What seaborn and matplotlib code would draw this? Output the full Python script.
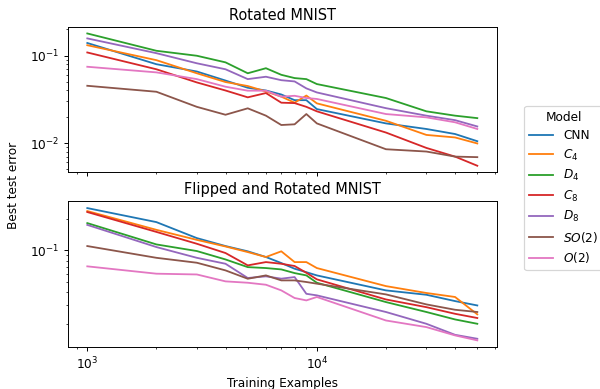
import pandas as pd
import matplotlib
matplotlib.use('Agg')
import matplotlib.pyplot as plt
import seaborn as sns

# training set sizes
train_sizes = [1000, 2000, 3000, 4000, 5000, 6000, 7000, 8000, 9000,
               10000, 20000, 30000, 40000, 50000]

models = ['CNN', '$C_4$', '$D_4$', '$C_8$', '$D_8$', '$SO(2)$', '$O(2)$']

# Rotated MNIST, best test error per model
rot_cnn = [0.14, 0.080, 0.066, 0.052, 0.043, 0.040, 0.036, 0.031, 0.031, 0.0245, 0.0168, 0.0145, 0.0127, 0.0105]
rot_c4 = [0.132, 0.089, 0.063, 0.050, 0.045, 0.039, 0.034, 0.029, 0.035, 0.0285, 0.018, 0.0124, 0.0116, 0.0099]
rot_d4 = [0.18, 0.114, 0.10, 0.084, 0.063, 0.072, 0.0605, 0.0555, 0.054, 0.0474, 0.0328, 0.0231, 0.0206, 0.0193]
rot_c8 = [0.109, 0.070, 0.0495, 0.040, 0.0334, 0.0374, 0.029, 0.0287, 0.026, 0.0231, 0.0132, 0.0088, 0.0070, 0.0055]
rot_d8 = [0.158, 0.107, 0.082, 0.070, 0.054, 0.0575, 0.0525, 0.0508, 0.0423, 0.038, 0.0251, 0.0206, 0.0183, 0.0155]
rot_so2 = [0.0453, 0.0387, 0.026, 0.0211, 0.025, 0.0206, 0.0161, 0.0164, 0.0215, 0.0168, 0.0085, 0.0080, 0.0070, 0.0069]
rot_o2 = [0.0748, 0.0645, 0.054, 0.0442, 0.0398, 0.0398, 0.034, 0.0348, 0.0328, 0.032, 0.0215, 0.0197, 0.0173, 0.0145]

# Flipped and Rotated MNIST
flip_cnn = [0.253, 0.186, 0.131, 0.110, 0.098, 0.0865, 0.0758, 0.0669, 0.062, 0.0578, 0.0416, 0.0378, 0.0329, 0.0299]
flip_c4 = [0.237, 0.157, 0.126, 0.109, 0.0964, 0.0865, 0.098, 0.0774, 0.0774, 0.0679, 0.0457, 0.0393, 0.036, 0.0246]
flip_d4 = [0.182, 0.114, 0.0986, 0.082, 0.0693, 0.0679, 0.0659, 0.0608, 0.0578, 0.0492, 0.0322, 0.0259, 0.022, 0.020]
flip_c8 = [0.232, 0.150, 0.1157, 0.0944, 0.072, 0.0774, 0.0746, 0.071, 0.0612, 0.053, 0.0341, 0.0288, 0.0249, 0.0227]
flip_d8 = [0.175, 0.1076, 0.085, 0.0746, 0.0546, 0.0566, 0.0538, 0.0557, 0.0386, 0.0373, 0.0259, 0.020, 0.0157, 0.0144]
flip_so2 = [0.11, 0.085, 0.0763, 0.0645, 0.0537, 0.0578, 0.0518, 0.0518, 0.050, 0.0482, 0.0381, 0.0306, 0.0272, 0.0259]
flip_o2 = [0.0705, 0.060, 0.059, 0.0507, 0.0492, 0.0471, 0.0416, 0.0352, 0.0334, 0.036, 0.0215, 0.0186, 0.0155, 0.0139]

rot_series = [rot_cnn, rot_c4, rot_d4, rot_c8, rot_d8, rot_so2, rot_o2]
flip_series = [flip_cnn, flip_c4, flip_d4, flip_c8, flip_d8, flip_so2, flip_o2]


def to_long(series):
    rows = []
    for model, vals in zip(models, series):
        for n, v in zip(train_sizes, vals):
            rows.append({'Training Examples': n, 'Best test error': v, 'Model': model})
    return pd.DataFrame(rows)


df_rot = to_long(rot_series)
df_flip = to_long(flip_series)

dpi = 87
fig, axes = plt.subplots(2, 1, sharex=True, figsize=(600 / dpi, 389 / dpi), dpi=dpi)
fig.subplots_adjust(left=0.113, right=0.828, top=0.931, bottom=0.108, hspace=0.2)

palette = sns.color_palette('tab10', len(models))

sns.lineplot(data=df_rot, x='Training Examples', y='Best test error', hue='Model',
             hue_order=models, palette=palette, ax=axes[0], legend=True)
sns.lineplot(data=df_flip, x='Training Examples', y='Best test error', hue='Model',
             hue_order=models, palette=palette, ax=axes[1], legend=False)

for ax, title in zip(axes, ['Rotated MNIST', 'Flipped and Rotated MNIST']):
    ax.set_xscale('log')
    ax.set_yscale('log')
    ax.set_title(title)
    ax.set_ylabel('')

axes[0].set_xlabel('')
axes[1].set_xlabel('Training Examples')

handles, labels = axes[0].get_legend_handles_labels()
axes[0].get_legend().remove()
fig.legend(handles, labels, title='Model', loc='center left',
           bbox_to_anchor=(0.864, 0.517), labelspacing=0.45)

fig.text(0.023, 0.524, 'Best test error', rotation=90, va='center', ha='center')

plt.savefig('out.png', dpi=dpi)
plt.close()
